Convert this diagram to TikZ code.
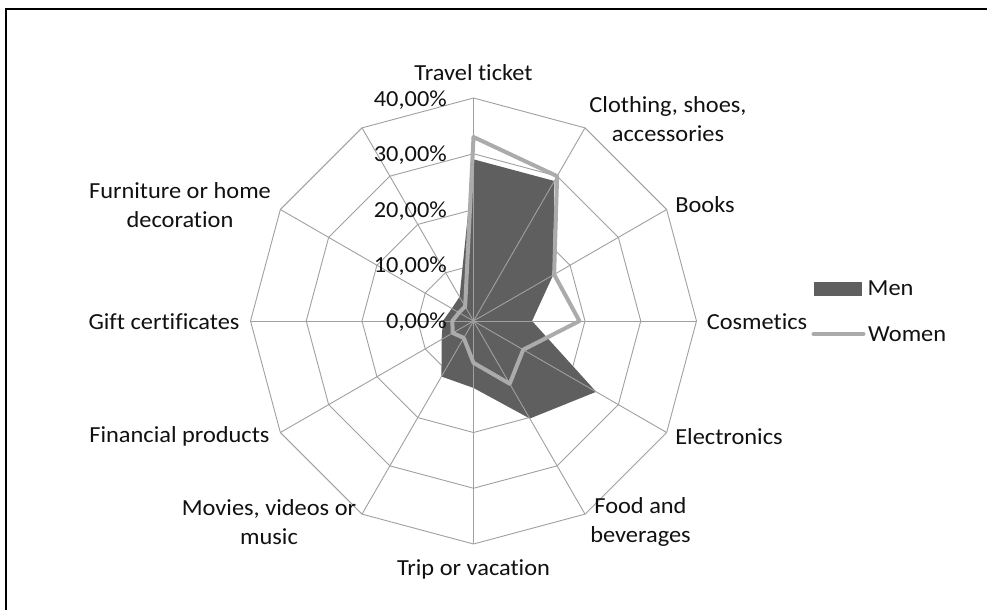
\documentclass[tikz,border=0pt]{standalone}
\usepackage{fontspec}
\setmainfont{Carlito}[FakeStretch=1.06, Ligatures=NoCommon]
\definecolor{gridgray}{HTML}{A0A0A0}
\definecolor{menfill}{HTML}{5F5F5F}
\definecolor{womenline}{HTML}{ABABAB}
\definecolor{txt}{HTML}{111111}
\begin{document}
\begin{tikzpicture}[x=1pt,y=-1pt,
  gridline/.style={draw=gridgray, line width=0.9pt},
  spokeline/.style={draw=gridgray, line width=0.9pt},
  menarea/.style={fill=menfill},
  womenpath/.style={draw=womenline, line width=4pt, line join=round},
  lbl/.style={font=\fontsize{23}{29}\selectfont, align=center, inner sep=0pt, text=txt},
  vallbl/.style={font=\fontsize{23}{29}\selectfont, anchor=east, inner sep=0pt, text=txt},
  frameline/.style={draw=black, line width=2pt}]
\useasboundingbox (0,0) rectangle (987,610);
\fill[white] (0,0) rectangle (987,610);
% frame (top and left edges visible)
\draw[frameline] (5.5,610) -- (5.5,9) -- (987,9);
% centre
\coordinate (O) at (473.5,321);
\begin{scope}[shift={(O)}, yscale=-1]
  % rings
  \foreach \k in {1,...,4} {
    \draw[gridline] (90:{\k*55.75})
      \foreach \a in {60,30,0,-30,-60,-90,-120,-150,180,150,120} { -- (\a:{\k*55.75}) } -- cycle;
  }
  % axis ends
  \foreach \a [count=\i] in {90,60,30,0,-30,-60,-90,-120,-150,180,150,120}
    \coordinate (ax\i) at (\a:223);
  % data
  \foreach \a/\m/\w [count=\i] in {90/29/33, 60/29/30, 30/16.5/16.7, 0/10.5/19,
      -30/25.4/10.3, -60/20.2/13, -90/12/7.5, -120/11.5/3.5, -150/6.6/4.3,
      180/5.5/3.8, 150/4.5/3, 120/5/3} {
    \coordinate (m\i) at (\a:{\m*5.575});
    \coordinate (w\i) at (\a:{\w*5.575});
  }
\end{scope}
% men filled area
\fill[menarea] (m1) -- (m2) -- (m3) -- (m4) -- (m5) -- (m6) -- (m7) -- (m8)
  -- (m9) -- (m10) -- (m11) -- (m12) -- cycle;
% spokes
\foreach \i in {1,...,12} \draw[spokeline] (O) -- (ax\i);
% women line
\draw[womenpath] (w1) -- (w2) -- (w3) -- (w4) -- (w5) -- (w6) -- (w7) -- (w8)
  -- (w9) -- (w10) -- (w11) -- (w12) -- cycle;
% value labels
\node[vallbl] (v40) at (447,100) {40,00\%};
\node[vallbl] (v30) at (447,155) {30,00\%};
\node[vallbl] (v20) at (447,211) {20,00\%};
\node[vallbl] (v10) at (447,266.5) {10,00\%};
\node[vallbl] (v0)  at (447,322) {0,00\%};
% category labels
\node[lbl] (cTravel) at (473.5,72.5) {Travel ticket};
\node[lbl] (cCloth) at (668,119.5) {Clothing, shoes,\\accessories};
\node[lbl] (cBooks) at (705,204.5) {Books};
\node[lbl] (cCosm) at (757,321.5) {Cosmetics};
\node[lbl] (cElec) at (729,436.5) {Electronics};
\node[lbl] (cFood) at (640.5,521.5) {Food and\\beverages};
\node[lbl] (cTrip) at (473.5,569) {Trip or vacation};
\node[lbl] (cMov) at (269,522) {Movies, videos or\\music};
\node[lbl] (cFin) at (179.5,436.5) {Financial products};
\node[lbl] (cGift) at (164,321.5) {Gift certificates};
\node[lbl] (cFurn) at (180,205.5) {Furniture or home\\decoration};
% legend
\fill[menarea] (814.3,281.7) rectangle (861.7,295.7);
\node[lbl, anchor=base west] (lMen) at (867.5,295.5) {Men};
\coordinate (lw1) at (813.5,334);
\coordinate (lw2) at (863.5,334);
\draw[womenpath, line cap=round] (lw1) -- (lw2);
\node[lbl, anchor=base west] (lWomen) at (868,341.5) {Women};
\end{tikzpicture}
\end{document}
